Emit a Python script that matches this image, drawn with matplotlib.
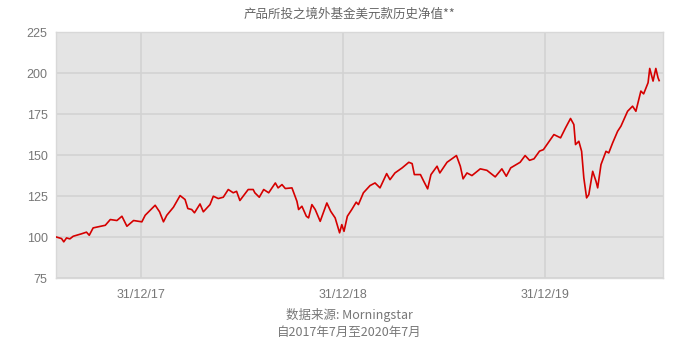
import matplotlib
matplotlib.use("Agg")
import matplotlib.pyplot as plt
import matplotlib.dates as mdates
import pandas as pd

# NAV points (date, value)
dates = [
    "2017-08-01", "2017-08-10", "2017-08-14", "2017-08-19", "2017-08-25", "2017-08-31",
    "2017-09-15", "2017-09-24", "2017-09-29", "2017-10-06", "2017-10-28", "2017-11-06",
    "2017-11-18", "2017-11-27", "2017-12-06", "2017-12-18", "2018-01-02", "2018-01-08",
    "2018-01-26", "2018-02-03", "2018-02-10", "2018-02-16", "2018-02-28", "2018-03-12",
    "2018-03-21", "2018-03-26", "2018-04-02", "2018-04-07", "2018-04-17", "2018-04-23",
    "2018-05-05", "2018-05-11", "2018-05-20", "2018-05-29", "2018-06-07", "2018-06-16",
    "2018-06-22", "2018-06-28", "2018-07-13", "2018-07-22", "2018-07-25", "2018-08-02",
    "2018-08-10", "2018-08-19", "2018-08-31", "2018-09-05", "2018-09-12", "2018-09-18",
    "2018-09-30", "2018-10-09", "2018-10-12", "2018-10-18", "2018-10-26", "2018-10-30",
    "2018-11-05", "2018-11-11", "2018-11-20", "2018-12-02", "2018-12-09", "2018-12-17",
    "2018-12-25", "2018-12-29", "2019-01-02", "2019-01-08", "2019-01-16", "2019-01-24",
    "2019-01-28", "2019-02-06", "2019-02-18", "2019-02-27", "2019-03-08", "2019-03-20",
    "2019-03-26", "2019-04-04", "2019-04-17", "2019-04-29", "2019-05-05", "2019-05-09",
    "2019-05-20", "2019-05-26", "2019-06-02", "2019-06-08", "2019-06-19", "2019-06-24",
    "2019-07-07", "2019-07-24", "2019-07-31", "2019-08-05", "2019-08-12", "2019-08-21",
    "2019-09-05", "2019-09-17", "2019-10-02", "2019-10-14", "2019-10-22", "2019-10-30",
    "2019-11-16", "2019-11-25", "2019-12-03", "2019-12-11", "2019-12-21", "2019-12-28",
    "2020-01-16", "2020-01-28", "2020-02-06", "2020-02-15", "2020-02-21", "2020-02-24",
    "2020-03-01", "2020-03-06", "2020-03-10", "2020-03-15", "2020-03-19", "2020-03-26",
    "2020-04-01", "2020-04-04", "2020-04-10", "2020-04-19", "2020-04-24", "2020-05-01",
    "2020-05-10", "2020-05-16", "2020-05-28", "2020-06-06", "2020-06-12", "2020-06-21",
    "2020-06-26", "2020-07-04", "2020-07-07", "2020-07-13", "2020-07-18", "2020-07-22",
    "2020-07-24",
]
nav = [
    100.0, 99.1, 97.1, 99.5, 98.9, 100.5,
    102.0, 103.0, 101.1, 105.6, 107.2, 110.7,
    110.1, 112.7, 106.6, 110.1, 109.3, 113.3,
    119.4, 115.4, 109.3, 113.3, 118.2, 125.3,
    122.9, 117.4, 116.8, 114.8, 120.2, 115.4,
    119.8, 124.9, 123.5, 124.3, 129.0, 127.0,
    127.9, 122.3, 129.0, 129.0, 127.0, 124.3,
    129.0, 127.0, 133.0, 130.0, 132.0, 129.6,
    130.0, 121.8, 116.8, 118.8, 112.7, 111.7,
    119.8, 116.8, 109.6, 120.8, 115.7, 111.7,
    102.6, 107.6, 103.5, 112.7, 116.8, 121.3,
    119.8, 127.0, 131.4, 133.0, 130.0, 138.7,
    135.0, 139.1, 142.2, 145.6, 144.8, 138.1,
    138.1, 134.0, 129.4, 138.1, 143.2, 139.1,
    145.6, 149.7, 143.2, 135.5, 139.1, 137.5,
    141.6, 140.7, 136.7, 141.6, 137.1, 142.2,
    145.6, 149.7, 146.8, 147.7, 152.4, 153.3,
    162.5, 160.5, 166.6, 172.3, 168.6, 156.4,
    158.4, 152.3, 136.1, 123.9, 125.9, 140.1,
    134.0, 130.0, 144.2, 152.3, 151.3, 157.4,
    164.5, 167.6, 176.7, 179.8, 176.7, 189.0,
    187.3, 194.1, 202.8, 195.1, 202.8, 197.1,
    195.4,
]

x_ticks = ["2017-12-31", "2018-12-31", "2019-12-31"]
y_ticks = [75, 100, 125, 150, 175, 200, 225]

title = "产品所投之境外基金美元款历史净值**"
source = "数据来源: Morningstar"
period = "自2017年7月至2020年7月"

plt.rcParams["font.family"] = ["Liberation Sans", "Noto Sans CJK SC", "DejaVu Sans"]
CJK = ["Noto Sans CJK SC", "DejaVu Sans"]

fig = plt.figure(figsize=(6.89, 3.64), dpi=100)
ax = fig.add_axes([0.0813, 0.236, 0.881, 0.676])
ax.set_facecolor("#e4e4e4")

ax.plot(pd.to_datetime(dates), nav, color="#d50000", linewidth=1.2, zorder=3)

ax.set_xlim(pd.Timestamp("2017-07-31"), pd.Timestamp("2020-07-31"))
ax.set_ylim(75, 225)
ax.set_yticks(y_ticks)
ax.set_xticks(pd.to_datetime(x_ticks))
ax.xaxis.set_major_formatter(mdates.DateFormatter("%d/%m/%y"))

ax.grid(True, color="#d2d2d2", linewidth=1.2)
ax.set_axisbelow(True)
for s in ax.spines.values():
    s.set_color("#d8d8d8")
    s.set_linewidth(1.0)
ax.tick_params(length=0, colors="#777777", labelsize=9, pad=6)
ax.tick_params(axis="x", pad=8)

fig.text(0.507, 0.962, title, ha="center", va="center", fontsize=9,
         color="#666666", family=CJK)
fig.text(0.507, 0.135, source, ha="center", va="center", fontsize=9,
         color="#777777", family=CJK)
fig.text(0.507, 0.086, period, ha="center", va="center", fontsize=9,
         color="#777777", family=CJK)

fig.savefig("out.png", dpi=100, facecolor="white")
